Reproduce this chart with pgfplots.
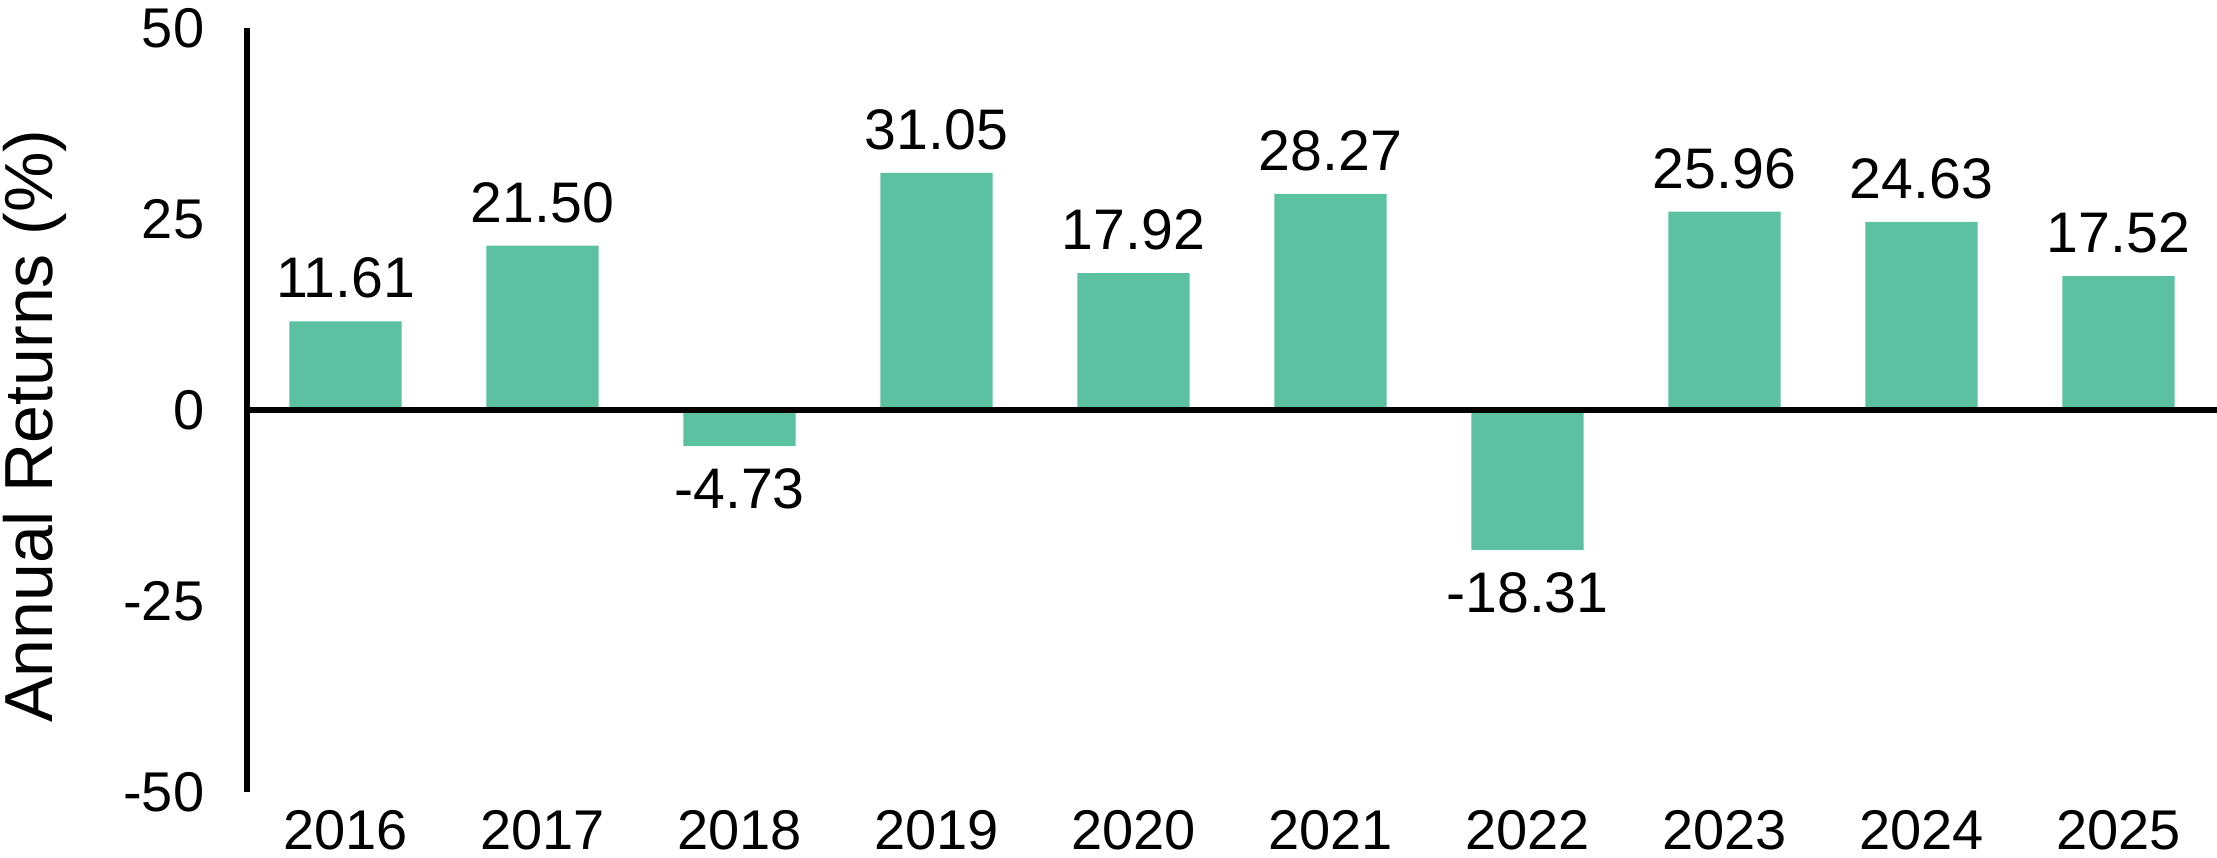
\documentclass[border=0pt]{standalone}
\usepackage{pgfplots}
\pgfplotsset{compat=1.18}
\usepackage{fontspec}
\setmainfont{Liberation Sans}
\definecolor{barteal}{HTML}{5BC1A0}

\begin{document}
\begin{tikzpicture}
\begin{axis}[
    name=ax,
    scale only axis,
    width=492.5pt,
    height=191pt,
    xmin=-0.5, xmax=9.5,
    ymin=-50, ymax=50,
    ytick={-50,-25,0,25,50},
    xtick={0,1,2,3,4,5,6,7,8,9},
    xticklabels={2016,2017,2018,2019,2020,2021,2022,2023,2024,2025},
    axis x line*=bottom,
    x axis line style={draw=none},
    axis y line*=left,
    y axis line style={line width=1.5pt, -},
    tick style={draw=none},
    /pgf/number format/assume math mode=true,
    ticklabel style={font=\fontsize{14}{16}\selectfont},
    yticklabel style={inner sep=0pt, anchor=east, xshift=-10.5pt},
    xticklabel style={inner sep=0pt, anchor=center, yshift=-5.4pt},
    ybar,
    bar width=0.57,
    nodes near coords={\pgfmathprintnumber[fixed,fixed zerofill,precision=2,assume math mode=true]{\pgfplotspointmeta}},
    nodes near coords style={font=\fontsize{14.3}{16}\selectfont, inner sep=5.5pt, text=black},
    clip=false,
]
\addplot[fill=barteal, draw=none] coordinates {
    (0,11.61)
    (1,21.50)
    (2,-4.73)
    (3,31.05)
    (4,17.92)
    (5,28.27)
    (6,-18.31)
    (7,25.96)
    (8,24.63)
    (9,17.52)
};
% zero line
\draw[line width=1.5pt] (axis cs:-0.5,0) -- (axis cs:9.5,0);
\end{axis}
\node[rotate=90, font=\fontsize{17}{20}\selectfont] at ([xshift=-53pt, yshift=-4pt]ax.west) {Annual Returns (\%)};
\pgfresetboundingbox
\path[use as bounding box] ([xshift=-61.75pt, yshift=-16.5pt]ax.south west) rectangle ([yshift=7pt]ax.north east);
\end{tikzpicture}
\end{document}
